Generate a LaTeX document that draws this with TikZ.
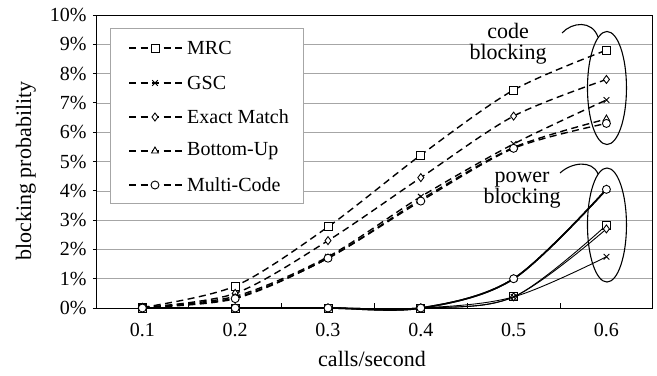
\documentclass[tikz,border=0pt]{standalone}
\usepackage{fontspec}
\setmainfont{Liberation Serif}
\usetikzlibrary{shapes.geometric,plotmarks}
\newcommand{\pxfont}[1]{\fontsize{#1bp}{#1bp}\selectfont}

\begin{document}
\begin{tikzpicture}[x=92.8bp,y=29.3bp,
  gridline/.style={gray!70,line width=0.6pt},
  codeline/.style={dash pattern=on 7bp off 4.5bp,line width=1.4pt},
  powerline/.style={line width=0.9pt},
  boldpower/.style={line width=1.6pt},
  markopts/.style={mark options={solid,fill=white,line width=0.9pt},mark size=4bp},
  ring/.style={draw,ellipse,line width=1.1pt,inner sep=0pt,minimum width=39bp}]
  \useasboundingbox (-0.534,-2.287) rectangle (6.545,10.512);

  % Grid and axes
  \foreach \y in {1,...,9} {
    \draw[gridline] (0.5,\y) -- (6.5,\y);
  }
  \draw[line width=0.9pt] (0.5,0) rectangle (6.5,10);
  \foreach \y in {0,...,10} {
    \draw[line width=0.9pt] (0.468,\y) -- (0.5,\y);
    \node[anchor=east,inner sep=0pt,font=\pxfont{20}] (ytick\y) at (0.40,\y) {\y\%};
  }
  \foreach \x in {1.5,2.5,3.5,4.5,5.5} {
    \draw[line width=0.9pt] (\x,0) -- (\x,0.17);
  }
  \foreach \x/\lbl in {1/0.1, 2/0.2, 3/0.3, 4/0.4, 5/0.5, 6/0.6} {
    \node[anchor=base,inner sep=0pt,font=\pxfont{20}] (xtick\x) at (\x,-0.956) {\lbl};
  }
  \node[anchor=base,inner sep=0pt,font=\pxfont{22}] (xtitle) at (3.474,-1.98) {calls/second};
  \node[rotate=90,inner sep=0pt,font=\pxfont{22}] (ytitle) at (-0.254,4.676) {blocking probability};

  % Legend
  \draw[gray!70,fill=white,line width=0.9pt] (0.651,3.584) rectangle (2.731,9.556);
  \foreach \y/\mk/\lbl [count=\i] in {8.874/square*/MRC, 7.679/x/GSC, 6.519/diamond*/Exact Match, 5.358/triangle*/Bottom-Up, 4.198/*/Multi-Code} {
    \draw[codeline] (0.856,\y) -- (1.428,\y);
    \draw[markopts] plot[mark=\mk] coordinates {(1.136,\y)};
    \node[anchor=west,inner sep=0pt,font=\pxfont{20}] (leg\i) at (1.481,\y) {\lbl};
  }

  % Code blocking
  \draw[codeline,markopts] plot[smooth,tension=0.5,mark=square*] coordinates {(1,0.02) (2,0.75) (3,2.77) (4,5.22) (5,7.44) (6,8.8)};
  \draw[codeline,markopts] plot[smooth,tension=0.5,mark=diamond*] coordinates {(1,0.02) (2,0.5) (3,2.3) (4,4.45) (5,6.55) (6,7.8)};
  \draw[codeline,markopts] plot[smooth,tension=0.5,mark=x] coordinates {(1,0.02) (2,0.4) (3,1.75) (4,3.8) (5,5.6) (6,7.1)};
  \draw[codeline,markopts] plot[smooth,tension=0.5,mark=triangle*] coordinates {(1,0.02) (2,0.35) (3,1.7) (4,3.7) (5,5.48) (6,6.45)};
  \draw[codeline,markopts] plot[smooth,tension=0.5,mark=*] coordinates {(1,0.02) (2,0.32) (3,1.7) (4,3.65) (5,5.45) (6,6.3)};

  % Power blocking
  \draw[powerline,markopts] plot[smooth,tension=0.55,mark=square*] coordinates {(1,0) (2,0) (3,0) (4,0) (5,0.38) (6,2.83)};
  \draw[powerline,markopts] plot[smooth,tension=0.55,mark=diamond*] coordinates {(1,0) (2,0) (3,0) (4,0) (5,0.38) (6,2.7)};
  \draw[powerline,markopts] plot[smooth,tension=0.55,mark=x] coordinates {(1,0) (2,0) (3,0) (4,0) (5,0.38) (6,1.75)};
  \draw[boldpower,markopts] plot[smooth,tension=0.55,mark=triangle*] coordinates {(1,0) (2,0) (3,0) (4,0) (5,1.0) (6,4.05)};
  \draw[boldpower,markopts] plot[smooth,tension=0.55,mark=*] coordinates {(1,0) (2,0) (3,0) (4,0) (5,1.0) (6,4.05)};

  % Callouts
  \node[ring,minimum height=113bp] (codeRing) at (6.006,7.509) {};
  \node[ring,minimum height=114bp] (powerRing) at (6.006,2.833) {};
  \node[anchor=base,inner sep=0pt,font=\pxfont{22}] (codeLbl) at (4.940,9.215) {code};
  \node[anchor=base,inner sep=0pt,font=\pxfont{22}] (codeLblB) at (4.940,8.498) {blocking};
  \node[anchor=base,inner sep=0pt,font=\pxfont{22}] (powerLbl) at (5.091,4.300) {power};
  \node[anchor=base,inner sep=0pt,font=\pxfont{22}] (powerLblB) at (5.091,3.584) {blocking};
  \coordinate (codeTail) at (5.522,9.386);
  \coordinate (powerTail) at (5.500,4.608);
  \draw[line width=1.1pt] (codeTail) .. controls (5.629,9.761) and (5.845,9.829) .. (codeRing.100);
  \draw[line width=1.1pt] (powerTail) .. controls (5.629,4.983) and (5.845,5.051) .. (powerRing.100);
\end{tikzpicture}
\end{document}
